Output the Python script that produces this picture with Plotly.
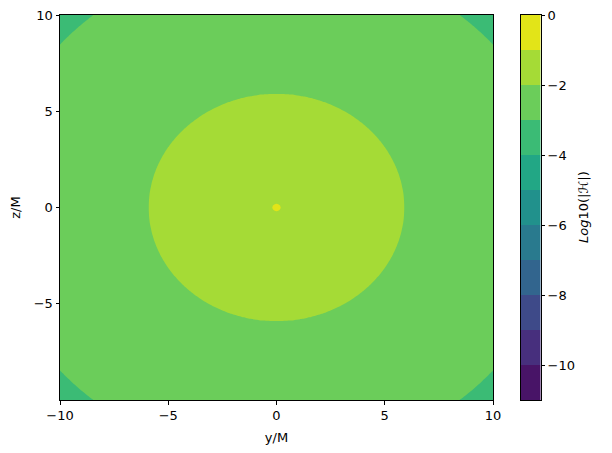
import numpy as np
import plotly.graph_objects as go

# Radial profile of log10(|H|) (radius in M)
R_KNOTS = [0.0, 0.15, 5.9, 13.1, 14.5]
LOG_H = [-0.7, -1.0, -2.0, -3.0, -3.2]

# Grid coordinates
Y_COORDS = np.linspace(-10, 10, 201)
Z_COORDS = np.linspace(-10, 10, 201)

# Contour levels and colour-bar ticks
LEVEL_START, LEVEL_END, LEVEL_STEP = -11, 0, 1
CBAR_TICKS = [0, -2, -4, -6, -8, -10]
X_TICKS = [-10, -5, 0, 5, 10]
Y_TICKS = [-5, 0, 5, 10]

# matplotlib viridis band colours (11 bands from -11 to 0)
BAND_COLORS = ["#481467", "#472f7d", "#3e4a89", "#32658e", "#297a8e", "#21918c",
               "#22a785", "#3bbb75", "#6bcd5a", "#a5db36", "#e2e418"]

YY, ZZ = np.meshgrid(Y_COORDS, Z_COORDS)
RR = np.sqrt(YY**2 + ZZ**2)
FIELD = np.interp(RR, R_KNOTS, LOG_H)

# stepwise colourscale: plotly maps bands to (k+1)/12 over [start-0.5, end+0.5]
n_lev = int((LEVEL_END - LEVEL_START) / LEVEL_STEP) + 1  # 12
cols = [BAND_COLORS[0]] + BAND_COLORS + [BAND_COLORS[-1]]  # 13 regions
cscale = []
for i, c in enumerate(cols):
    lo = max(0.0, (i - 0.5) / n_lev)
    hi = min(1.0, (i + 0.5) / n_lev)
    cscale.append([lo, c])
    cscale.append([hi, c])

# discrete scale for the hand-built colour bar
nb = len(BAND_COLORS)
bar_scale = []
for i, c in enumerate(BAND_COLORS):
    bar_scale.append([i / nb, c])
    bar_scale.append([(i + 1) / nb, c])
level_edges = list(np.arange(LEVEL_START, LEVEL_END + LEVEL_STEP, LEVEL_STEP))

# page body has an 8px margin, so the figure is drawn shifted by 8px
OFF = 8
W, H = 612 - OFF, 453 - OFF
L, R, T, B = 60 - OFF, 0, 15 - OFF, 453 - 400
PW = W - L - R


def px(xpix):
    return (xpix - OFF - L) / PW


fig = go.Figure()
fig.add_trace(go.Contour(
    x=Y_COORDS, y=Z_COORDS, z=FIELD,
    colorscale=cscale,
    contours=dict(start=LEVEL_START, end=LEVEL_END, size=LEVEL_STEP, coloring="fill"),
    line=dict(width=0),
    showscale=False,
    xaxis="x", yaxis="y",
))

fig.add_trace(go.Heatmap(
    x=[0, 1], y=level_edges,
    z=[[k] for k in range(nb)],
    zmin=-0.5, zmax=nb - 0.5,
    colorscale=bar_scale, showscale=False, hoverinfo="skip",
    xaxis="x2", yaxis="y2",
))

fig.add_annotation(
    x=px(593), y=0.5, xref="paper", yref="paper",
    text="<i>Log</i>10(|<i>ℋ</i>|)", textangle=-90, showarrow=False,
    font=dict(family="DejaVu Sans", size=13, color="black"),
)

tf = dict(family="DejaVu Sans", size=13, color="black")
axis_common = dict(
    showgrid=False, zeroline=False, showline=True, linecolor="black", linewidth=1,
    mirror=True, ticks="outside", ticklen=3.5, tickwidth=0.8, tickcolor="black",
    tickfont=tf, automargin=False, ticklabeloverflow="allow",
)

fig.update_layout(
    width=W, height=H,
    margin=dict(l=L, r=R, t=T, b=B, autoexpand=False),
    plot_bgcolor="white", paper_bgcolor="white",
    font=dict(family="DejaVu Sans", size=13, color="black"),
    xaxis=dict(domain=[0, px(493)], range=[-10, 10], tickvals=X_TICKS,
               title=dict(text="y/M", standoff=10, font=tf), anchor="y", **axis_common),
    yaxis=dict(domain=[0, 1], range=[-10, 10], tickvals=Y_TICKS,
               title=dict(text="z/M", standoff=11, font=tf), anchor="x", **axis_common),
    xaxis2=dict(domain=[px(521), px(540.5)], range=[0, 1], showgrid=False, zeroline=False,
                showline=True, linecolor="black", linewidth=1, mirror=True,
                showticklabels=False, ticks="", anchor="y2", automargin=False),
    yaxis2=dict(domain=[0, 1], range=[LEVEL_START, LEVEL_END], tickvals=CBAR_TICKS,
                side="right", anchor="x2", showgrid=False, zeroline=False, showline=True,
                linecolor="black", linewidth=1, mirror=True, ticks="outside", ticklen=3.5,
                tickwidth=0.8, tickcolor="black", tickfont=tf, automargin=False,
                ticklabeloverflow="allow"),
)

fig.write_html("out.html")
